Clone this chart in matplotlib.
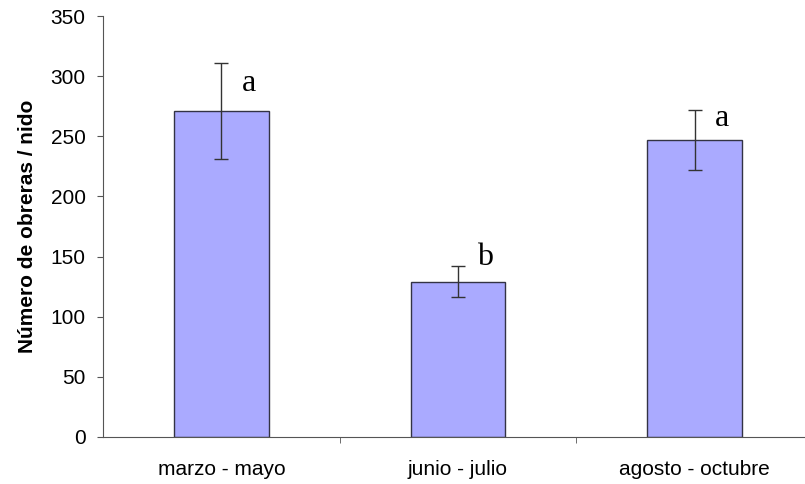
import matplotlib
matplotlib.use('Agg')
import matplotlib.pyplot as plt
import numpy as np

periods = ['marzo - mayo', 'junio - julio', 'agosto - octubre']
workers = [271, 129, 247]
err = [40, 13, 25]
letters = ['a', 'b', 'a']
letter_y = [294, 149, 265]

plt.rcParams['font.family'] = ['Liberation Sans', 'DejaVu Sans']

fig = plt.figure(figsize=(8.05, 4.84), dpi=100)
ax = fig.add_axes([103 / 805, 47 / 484, 710 / 805, 421 / 484])

x = np.arange(len(periods))
ax.bar(x, workers, width=0.4, color='#aaaaff', edgecolor='#333344', linewidth=1,
       yerr=err, error_kw=dict(ecolor='#333333', elinewidth=1, capsize=5, capthick=1))

for xi, lab, ly in zip(x, letters, letter_y):
    ax.text(xi + 0.115, ly, lab, ha='center', va='center', fontsize=23,
            family='Liberation Serif')

ax.set_xlim(-0.5, 2.5)
ax.set_ylim(0, 350)
ax.set_yticks(np.arange(0, 351, 50))
ax.set_xticks(x)
ax.set_xticklabels(periods, fontsize=15)
ax.set_xticks([0.5, 1.5], minor=True)
ax.tick_params(axis='x', which='major', length=0, pad=16.5)
ax.tick_params(axis='x', which='minor', length=4.5, direction='out', color='#555555')
ax.tick_params(axis='y', length=4.5, direction='out', labelsize=15, pad=8, color='#555555')

for s in ['top', 'right']:
    ax.spines[s].set_visible(False)
for s in ['left', 'bottom']:
    ax.spines[s].set_color('#555555')

ax.set_ylabel('Número de obreras / nido', fontsize=15, fontweight='bold', labelpad=10)

fig.savefig('out.png', dpi=100)
